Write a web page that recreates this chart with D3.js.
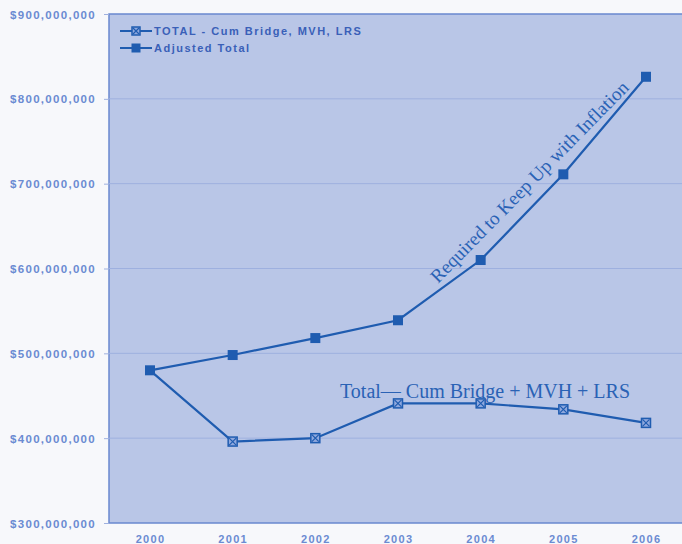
<!DOCTYPE html>
<html><head><meta charset="utf-8">
<script src="https://cdn.jsdelivr.net/npm/d3@7"></script>
<style>body{margin:0;background:#f7f8fb;} svg{display:block;}</style>
</head><body>
<svg id="c" width="682" height="544"></svg>
<script>
const years = ["2000","2001","2002","2003","2004","2005","2006"];
const totalCum = [480e6, 396e6, 400e6, 441e6, 441e6, 434e6, 418e6];
const adjustedTotal = [480e6, 498e6, 518e6, 539e6, 610e6, 711e6, 826e6];
const yTicks = [300e6, 400e6, 500e6, 600e6, 700e6, 800e6, 900e6];
const seriesNames = ["TOTAL - Cum Bridge, MVH, LRS", "Adjusted Total"];

const svg = d3.select("#c");
const W = 682, H = 544;
const m = {l:109};
const x = d3.scalePoint().domain(years).range([150, 646]);
const y = d3.scaleLinear().domain([300e6, 900e6]).range([523, 14]);
const lineC = "#1f5cb0", labC = "#6b8bd2";

svg.append("rect").attr("width", W).attr("height", H).attr("fill", "#f7f8fb");
svg.append("rect").attr("x", m.l).attr("y", y(900e6)).attr("width", W - m.l + 2).attr("height", y(300e6) - y(900e6))
  .attr("fill", "#b9c6e7").attr("stroke", "#6a88cf").attr("stroke-width", 1.5);

// gridlines
svg.append("g").selectAll("line").data(yTicks.slice(1, -1)).join("line")
  .attr("x1", m.l).attr("x2", W).attr("y1", d => y(d)).attr("y2", d => y(d))
  .attr("stroke", "#9eb0df").attr("stroke-width", 1);

// y axis
const fmt = d => "$" + d3.format(",")(d);
const ya = svg.append("g").attr("transform", `translate(${m.l},0)`)
  .call(d3.axisLeft(y).tickValues(yTicks).tickFormat(fmt).tickSize(5).tickPadding(8));
ya.select(".domain").remove();
ya.selectAll("line").attr("stroke", "#9eb0df");
ya.selectAll("text").attr("fill", labC).attr("font-family", "Liberation Sans, Arial, sans-serif")
  .attr("font-size", 11.5).attr("font-weight", "bold").attr("letter-spacing", 1.3).attr("dy", "0.35em");

// x axis
const xa = svg.append("g").attr("transform", `translate(0,${y(300e6)})`)
  .call(d3.axisBottom(x).tickSize(0).tickPadding(12));
xa.select(".domain").remove();
xa.selectAll("text").attr("fill", labC).attr("font-family", "Liberation Sans, Arial, sans-serif")
  .attr("font-size", 11).attr("font-weight", "bold").attr("letter-spacing", 1.3);

const line = d3.line().x((d, i) => x(years[i])).y(d => y(d));
svg.append("path").datum(adjustedTotal).attr("d", line).attr("fill", "none").attr("stroke", lineC).attr("stroke-width", 2.2);
svg.append("path").datum(totalCum).attr("d", line).attr("fill", "none").attr("stroke", lineC).attr("stroke-width", 2.2);

function xMarker(g, cx, cy, s) {
  g.append("rect").attr("x", cx - s/2).attr("y", cy - s/2).attr("width", s).attr("height", s)
    .attr("fill", "#8fa8de").attr("stroke", lineC).attr("stroke-width", 1.5);
  g.append("path").attr("d", `M${cx-s/2+1},${cy-s/2+1}L${cx+s/2-1},${cy+s/2-1}M${cx+s/2-1},${cy-s/2+1}L${cx-s/2+1},${cy+s/2-1}`)
    .attr("stroke", lineC).attr("stroke-width", 1.2);
}
function sqMarker(g, cx, cy, s) {
  g.append("rect").attr("x", cx - s/2).attr("y", cy - s/2).attr("width", s).attr("height", s).attr("fill", lineC);
}
const mk = svg.append("g");
totalCum.forEach((d, i) => { if (i > 0) xMarker(mk, x(years[i]), y(d), 9); });
adjustedTotal.forEach((d, i) => sqMarker(mk, x(years[i]), y(d), 10));

// legend
const lg = svg.append("g");
[0, 1].forEach(i => {
  const ly = 31 + i * 17;
  lg.append("line").attr("x1", 120).attr("x2", 152).attr("y1", ly).attr("y2", ly).attr("stroke", lineC).attr("stroke-width", 2);
  if (i === 0) xMarker(lg, 136, ly, 8); else sqMarker(lg, 136, ly, 9);
  lg.append("text").attr("x", 154).attr("y", ly).attr("dy", "0.35em").text(seriesNames[i])
    .attr("fill", "#3a60b8").attr("font-family", "Liberation Sans, Arial, sans-serif")
    .attr("font-size", 11).attr("font-weight", "bold").attr("letter-spacing", 1.5);
});

// annotations
svg.append("text").attr("x", 340).attr("y", 398).text("Total\u2014 Cum Bridge + MVH + LRS")
  .attr("fill", "#2a62b5").attr("font-family", "Liberation Serif, Times New Roman, serif").attr("font-size", 20);
svg.append("text").attr("transform", "translate(438,284) rotate(-45.5)").text("Required to Keep Up with Inflation")
  .attr("fill", "#2a62b5").attr("font-family", "Liberation Serif, Times New Roman, serif").attr("font-size", 19)
  .attr("textLength", 274).attr("lengthAdjust", "spacingAndGlyphs");
</script>
</body></html>
